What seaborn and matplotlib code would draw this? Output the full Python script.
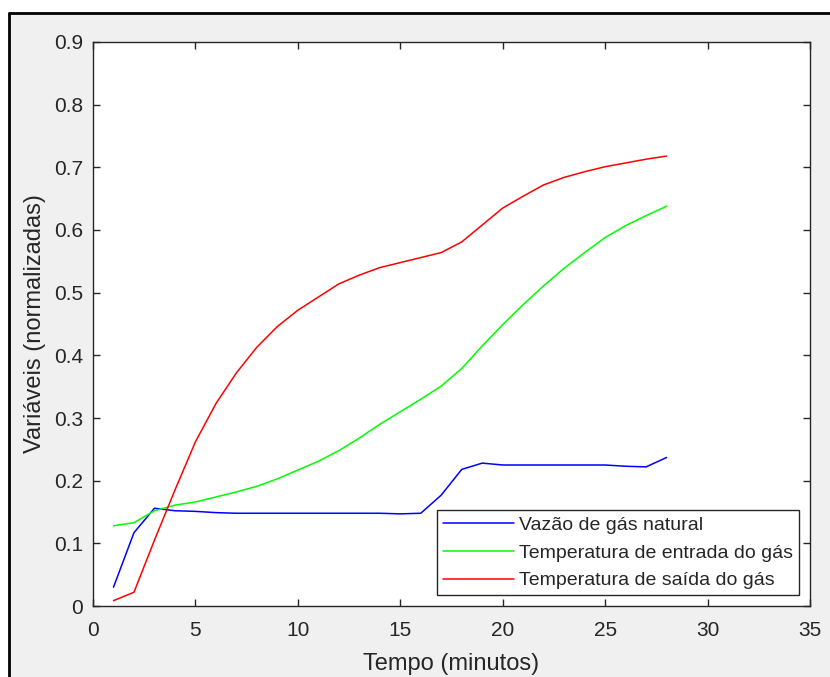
import numpy as np
import pandas as pd
import matplotlib
matplotlib.use("Agg")
import matplotlib.pyplot as plt
from matplotlib.lines import Line2D
from matplotlib.patches import Rectangle
import seaborn as sns

minutos = [1, 2, 3, 4, 5, 6, 7, 8, 9, 10, 11, 12, 13, 14,
           15, 16, 17, 18, 19, 20, 21, 22, 23, 24, 25, 26, 27, 28]
vazao = [0.030, 0.117, 0.156, 0.152, 0.151, 0.149, 0.148, 0.148, 0.148, 0.148,
         0.148, 0.148, 0.148, 0.148, 0.147, 0.148, 0.177, 0.218, 0.228, 0.225,
         0.225, 0.225, 0.225, 0.225, 0.225, 0.223, 0.222, 0.237]
temp_entrada = [0.128, 0.133, 0.152, 0.161, 0.166, 0.174, 0.182, 0.191, 0.203, 0.217,
                0.231, 0.248, 0.268, 0.290, 0.310, 0.330, 0.351, 0.379, 0.415, 0.449,
                0.481, 0.511, 0.539, 0.564, 0.588, 0.607, 0.623, 0.638]
temp_saida = [0.0085, 0.022, 0.105, 0.185, 0.262, 0.323, 0.372, 0.413, 0.446, 0.472,
              0.493, 0.514, 0.528, 0.540, 0.548, 0.556, 0.564, 0.581, 0.608, 0.635,
              0.654, 0.672, 0.684, 0.693, 0.701, 0.707, 0.713, 0.718]
series_names = ["Vazão de gás natural", "Temperatura de entrada do gás",
                "Temperatura de saída do gás"]
x_ticks = [0, 5, 10, 15, 20, 25, 30, 35]
y_ticks = [0, 0.1, 0.2, 0.3, 0.4, 0.5, 0.6, 0.7, 0.8, 0.9]
y_tick_labels = ["0", "0.1", "0.2", "0.3", "0.4", "0.5", "0.6", "0.7", "0.8", "0.9"]

df = pd.DataFrame({
    "Tempo": minutos * 3,
    "Valor": vazao + temp_entrada + temp_saida,
    "Serie": [series_names[0]] * len(minutos) + [series_names[1]] * len(minutos)
             + [series_names[2]] * len(minutos),
})

sns.set_style("ticks")
plt.rcParams["font.family"] = ["Liberation Sans", "DejaVu Sans"]

W, H = 830, 677
fig = plt.figure(figsize=(W / 100, H / 100), dpi=100, facecolor="white")
# grey window background with black top/left frame
fig.patches.append(Rectangle((9 / W, 0), 1 - 9 / W, 1 - 13 / H, transform=fig.transFigure,
                             facecolor="#F0F0F0", edgecolor="none", zorder=-10))
fig.lines.append(Line2D([8.5 / W, 8.5 / W], [0, 1 - 12.5 / H], transform=fig.transFigure,
                        color="black", lw=2.0, zorder=-5))
fig.lines.append(Line2D([8.5 / W, 1], [1 - 12.5 / H, 1 - 12.5 / H], transform=fig.transFigure,
                        color="black", lw=2.0, zorder=-5))

ax = fig.add_axes([93 / W, 1 - 606 / H, (810 - 93) / W, (606 - 42) / H])
ax.set_facecolor("white")

sns.lineplot(data=df, x="Tempo", y="Valor", hue="Serie",
             palette=["#0000FF", "#00FF00", "#FF0000"], linewidth=1.1,
             ax=ax, legend=True)

ax.set_xlim(0, 35)
ax.set_ylim(0, 0.9)
ax.set_xticks(x_ticks)
ax.set_xticklabels([str(t) for t in x_ticks])
ax.set_yticks(y_ticks)
ax.set_yticklabels(y_tick_labels)
tc = "#262626"
ax.tick_params(direction="in", top=True, right=True, length=5, width=1.0,
               colors=tc, labelcolor=tc, labelsize=15)
ax.tick_params(axis="x", pad=11)
ax.tick_params(axis="y", pad=7)
for s in ax.spines.values():
    s.set_visible(True)
    s.set_color(tc)
    s.set_linewidth(1.0)

ax.set_xlabel("Tempo (minutos)", fontsize=17, color=tc, labelpad=9)
ax.set_ylabel("Variáveis (normalizadas)", fontsize=17, color=tc, labelpad=6)

leg = ax.legend(loc="lower right", fontsize=14, frameon=True, fancybox=False,
                edgecolor=tc, facecolor="white", framealpha=1.0,
                handlelength=3.65, handletextpad=0.3, labelspacing=0.53,
                borderpad=0.3, borderaxespad=0.55, title=None)
leg.get_frame().set_linewidth(1.0)
for t in leg.get_texts():
    t.set_color(tc)

fig.savefig("out.png", dpi=100, facecolor=fig.get_facecolor())
